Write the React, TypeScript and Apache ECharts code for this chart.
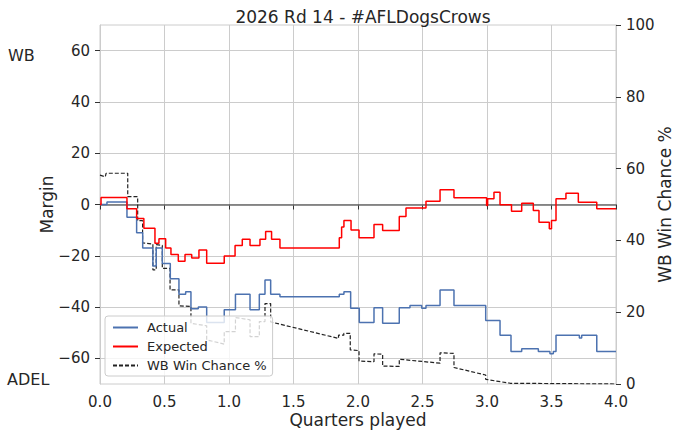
import React, { useEffect, useRef } from "react";
import * as echarts from "echarts";

// Quarters played vs margin (WB perspective)
const actual: [number, number][] = [
  [0, 0], [0.054, 1], [0.209, -5], [0.284, -11], [0.331, -17], [0.41, -24],
  [0.436, -17], [0.483, -23], [0.545, -29], [0.612, -35], [0.664, -34],
  [0.705, -40.7], [0.762, -40], [0.827, -46], [0.963, -41], [1.05, -35],
  [1.163, -41], [1.235, -35], [1.279, -29.4], [1.323, -35], [1.395, -36],
  [1.855, -35], [1.891, -34], [1.943, -40.5], [2.01, -46], [2.124, -40.3],
  [2.191, -46.3], [2.32, -40.3], [2.403, -39.4], [2.494, -40.5], [2.527, -39.4],
  [2.636, -33.3], [2.744, -39.4], [2.99, -45.2], [3.101, -51], [3.186, -57.3],
  [3.269, -56.3], [3.398, -57.3], [3.488, -58.2], [3.514, -57.3], [3.535, -51],
  [3.716, -52.1], [3.734, -51], [3.851, -57.3], [4.0, -57.3],
];

const expected: [number, number][] = [
  [0, 0], [0.008, 2.7], [0.209, -1.7], [0.284, -5.5], [0.34, -9.3], [0.426, -15.1],
  [0.457, -13.4], [0.509, -17], [0.55, -19.5], [0.607, -22.1], [0.659, -19.5],
  [0.711, -20.9], [0.767, -17.7], [0.827, -22.9], [0.963, -20.1], [1.047, -16],
  [1.103, -13.6], [1.163, -16], [1.24, -13.6], [1.284, -10.5], [1.33, -13.6],
  [1.395, -17], [1.855, -13], [1.873, -8.8], [1.891, -6.2], [1.946, -9.9],
  [2.008, -13], [2.124, -7.8], [2.191, -10.1], [2.32, -4.7], [2.372, -1.4],
  [2.527, 1.3], [2.636, 5.8], [2.744, 2.6], [2.997, -0.4], [3.005, 2.2],
  [3.054, 4.8], [3.101, -0.1], [3.19, -2.6], [3.269, 0.5], [3.359, -2.3],
  [3.403, -6.9], [3.483, -9.5], [3.5, -6.2], [3.535, 2.2], [3.612, 4.4],
  [3.708, 0.9], [3.851, -1.7], [4.0, -1.7],
];

const winChance: [number, number][] = [
  [0, 58.2], [0.041, 57.7], [0.047, 58.7], [0.215, 58.7], [0.215, 52.2],
  [0.292, 52.2], [0.292, 45.5], [0.33, 45.5], [0.33, 39.3], [0.41, 39.0],
  [0.41, 31.8], [0.436, 31.8], [0.436, 38.8], [0.483, 38.6], [0.483, 32.2],
  [0.543, 32.2], [0.543, 26.2], [0.612, 26.2], [0.612, 21.8], [0.705, 21.6],
  [0.705, 16.9], [0.827, 16.2], [0.827, 12.3], [0.963, 11.1], [0.963, 14.6],
  [1.05, 14.6], [1.05, 18.5], [1.163, 17.9], [1.163, 13.2], [1.235, 13.2],
  [1.235, 17.4], [1.279, 17.4], [1.279, 22.4], [1.323, 22.4], [1.323, 17.3],
  [1.849, 12.7], [1.849, 13.6], [1.89, 13.6], [1.89, 14.1], [1.94, 14.1],
  [1.94, 9.5], [2.008, 9.3], [2.008, 6.4], [2.124, 6.2], [2.124, 8.4],
  [2.191, 8.3], [2.191, 5.0], [2.32, 4.9], [2.32, 6.9], [2.636, 5.8],
  [2.636, 8.7], [2.744, 8.5], [2.744, 4.6], [2.99, 2.5], [2.99, 1.3],
  [3.18, 0.2], [4.0, 0],
];

const marginTicks = [-60, -40, -20, 0, 20, 40, 60];
const chanceTicks = [0, 20, 40, 60, 80, 100];

const FONT = "DejaVu Sans";
const TXT = "#262626";

export default function App() {
  const ref = useRef<HTMLDivElement>(null);
  useEffect(() => {
    if (!ref.current) return;
    const chart = echarts.init(ref.current, undefined, { renderer: "svg" });
    chart.setOption({
      animation: false,
      backgroundColor: "#ffffff",
      textStyle: { fontFamily: FONT },
      title: {
        text: "2026 Rd 14 - #AFLDogsCrows",
        left: 358,
        top: 3,
        textAlign: "center",
        textStyle: { fontFamily: FONT, fontSize: 17, fontWeight: "normal", color: TXT },
      },
      grid: {
        left: 100, right: 64, top: 25, bottom: 51,
        outerBoundsMode: "none",
        containLabel: false,
        show: true, borderColor: "#cccccc", borderWidth: 1,
      },
      legend: {
        orient: "vertical",
        left: 105,
        top: 316,
        itemWidth: 25,
        itemHeight: 14,
        itemGap: 6,
        padding: [5, 6, 4, 7],
        backgroundColor: "rgba(255,255,255,0.8)",
        borderColor: "#cccccc",
        borderWidth: 1,
        borderRadius: 3,
        itemStyle: { opacity: 0, borderWidth: 0 },
        textStyle: { fontFamily: FONT, fontSize: 13, color: TXT, padding: [0, 0, 0, 4] },
        data: ["Actual", "Expected", "WB Win Chance %"],
      },
      graphic: [
        { type: "text", left: 8, top: 47, style: { text: "WB", font: `16px "${FONT}"`, fill: TXT } },
        { type: "text", left: 7, top: 371, style: { text: "ADEL", font: `16px "${FONT}"`, fill: TXT } },
      ],
      xAxis: {
        type: "value",
        min: 0,
        max: 4,
        interval: 0.5,
        name: "Quarters played",
        nameLocation: "middle",
        nameGap: 27,
        nameMoveOverlap: false,
        nameTextStyle: { fontFamily: FONT, fontSize: 17, color: TXT },
        axisLine: { show: true, lineStyle: { color: "#cccccc" } },
        axisTick: { show: true, length: 5, lineStyle: { color: "#333" } },
        axisLabel: { fontFamily: FONT, fontSize: 15, color: TXT, margin: 10, formatter: (v: number) => v.toFixed(1) },
        splitLine: { show: true, lineStyle: { color: "#cccccc", width: 1 } },
      },
      yAxis: [
        {
          type: "value",
          min: -70,
          max: 70,
          splitNumber: 7,
          name: "Margin",
          nameLocation: "middle",
          nameGap: 45,
          nameRotate: 90,
          nameMoveOverlap: false,
          nameTextStyle: { fontFamily: FONT, fontSize: 17, color: TXT },
          axisLine: { show: true, lineStyle: { color: "#cccccc" } },
          axisTick: { show: true, length: 5, customValues: marginTicks, lineStyle: { color: "#333" } },
          axisLabel: {
            fontFamily: FONT,
            fontSize: 15,
            color: TXT,
            margin: 10,
            customValues: marginTicks,
            formatter: (v: number) => String(v).replace("-", "\u2212"),
          },
          splitLine: { show: true, lineStyle: { color: "#cccccc", width: 1 } },
        },
        {
          type: "value",
          min: 0,
          max: 100,
          interval: 20,
          position: "right",
          name: "WB Win Chance %",
          nameLocation: "middle",
          nameGap: 40,
          nameRotate: 90,
          nameMoveOverlap: false,
          nameTextStyle: { fontFamily: FONT, fontSize: 17, color: TXT },
          axisLine: { show: true, lineStyle: { color: "#cccccc" } },
          axisTick: { show: true, length: 5, customValues: chanceTicks, lineStyle: { color: "#333" } },
          axisLabel: { fontFamily: FONT, fontSize: 15, color: TXT, margin: 10 },
          splitLine: { show: false },
        },
      ],
      series: [
        {
          name: "Actual",
          type: "line",
          step: "end",
          data: actual,
          symbol: "none",
          z: 3,
          lineStyle: { color: "#4c72b0", width: 1.5 },
          itemStyle: { color: "#4c72b0" },
          markLine: {
            silent: true,
            symbol: "none",
            label: { show: false },
            lineStyle: { color: "#6b6b6b", width: 1.5, type: "solid" },
            data: [{ yAxis: 0 }],
            z: 1,
          },
        },
        {
          name: "Expected",
          type: "line",
          step: "end",
          data: expected,
          symbol: "none",
          z: 4,
          lineStyle: { color: "#ff0000", width: 1.5 },
          itemStyle: { color: "#ff0000" },
        },
        {
          name: "WB Win Chance %",
          type: "line",
          yAxisIndex: 1,
          data: winChance,
          symbol: "none",
          z: 2,
          lineStyle: { color: "#222222", width: 1.2, type: [4, 2] },
          itemStyle: { color: "#222222" },
        },
      ],
    });
    return () => chart.dispose();
  }, []);
  return <div ref={ref} style={{ position: "fixed", left: 0, top: 0, width: 680, height: 435 }} />;
}
